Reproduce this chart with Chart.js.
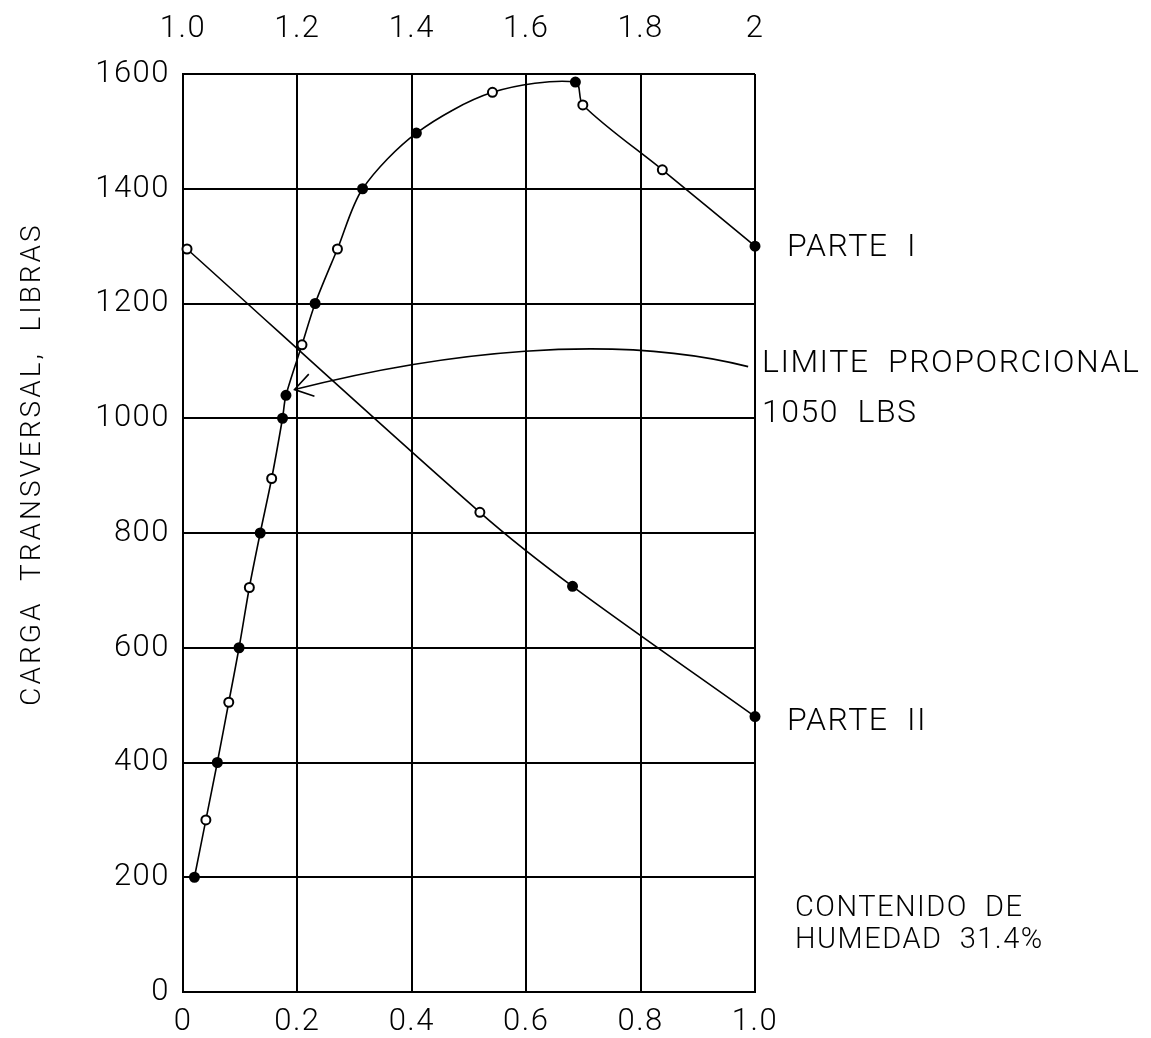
<!DOCTYPE html>
<html>
<head>
<meta charset="utf-8">
<script src="https://cdn.jsdelivr.net/npm/chart.js@4/dist/chart.umd.min.js"></script>
<style>
  html, body { margin: 0; padding: 0; background: #fff; }
  #wrap { width: 1151px; height: 1038px; }
</style>
</head>
<body>
<div id="wrap"><canvas id="c" width="1151" height="1038"></canvas></div>
<script>
// Parte I: deflexión (eje inferior, 0–1.0) y carga en libras
const deflexionParteI = [0.020, 0.040, 0.060, 0.080, 0.098, 0.116, 0.135, 0.155, 0.174, 0.180,
                         0.208, 0.231, 0.270, 0.314, 0.408, 0.541, 0.686, 0.699, 0.838, 1.000];
const cargaParteI     = [200, 300, 400, 505, 600, 705, 800, 895, 1000, 1040,
                         1128, 1200, 1295, 1400, 1497, 1568, 1586, 1546, 1433, 1300];

// Parte II: deflexión (eje superior, 1.0–2) y carga en libras
const deflexionParteII = [1.007, 1.519, 1.681, 2.000];
const cargaParteII     = [1295, 836, 707, 480];

// Marcas de los ejes
const ticksInferior = [0, 0.2, 0.4, 0.6, 0.8, 1.0];
const ticksSuperior = [1.0, 1.2, 1.4, 1.6, 1.8, 2.0];
const ticksCarga    = [0, 200, 400, 600, 800, 1000, 1200, 1400, 1600];

// Límite proporcional señalado con la flecha
const limiteProporcional = 1050;
const deflexionLimite = 0.195;

const FONT = 'Roboto, "DejaVu Sans", sans-serif';
const INK = '#000';

// relleno de cada marcador (negro = punto lleno, blanco = círculo abierto)
const rellenoI  = [1,0,1,0,1,0,1,0,1,1,0,1,0,1,1,0,1,0,0,1].map(f => f ? INK : '#fff');
const rellenoII = [0,0,1,1].map(f => f ? INK : '#fff');

const toPts = (xs, ys) => xs.map((x, i) => ({ x, y: ys[i] }));

const spacing = {
  id: 'spacing',
  beforeDraw(chart) { chart.ctx.letterSpacing = '1.5px'; }
};

const anotaciones = {
  id: 'anotaciones',
  afterDraw(chart) {
    const { ctx, chartArea } = chart;
    const xs = chart.scales.x, ys = chart.scales.y;
    ctx.save();
    ctx.fillStyle = INK;
    ctx.strokeStyle = INK;

    // flecha curva hacia el límite proporcional
    const P = (x, y) => [xs.getPixelForValue(x), ys.getPixelForValue(y)];
    const p0 = P(0.988, 1090), c1 = P(0.75, 1150), c2 = P(0.45, 1115);
    const p3 = P(deflexionLimite, limiteProporcional);
    ctx.lineWidth = 1.6;
    ctx.beginPath();
    ctx.moveTo(p0[0], p0[1]);
    ctx.bezierCurveTo(c1[0], c1[1], c2[0], c2[1], p3[0], p3[1]);
    ctx.stroke();
    const ang = Math.atan2(c2[1] - p3[1], c2[0] - p3[0]);
    const L = 21, spread = 33 * Math.PI / 180;
    ctx.beginPath();
    ctx.moveTo(p3[0] + L * Math.cos(ang - spread), p3[1] + L * Math.sin(ang - spread));
    ctx.lineTo(p3[0], p3[1]);
    ctx.lineTo(p3[0] + L * Math.cos(ang + spread), p3[1] + L * Math.sin(ang + spread));
    ctx.stroke();

    // textos a la derecha del gráfico
    ctx.letterSpacing = '1.5px';
    ctx.font = `300 32px ${FONT}`;
    ctx.textAlign = 'left';
    ctx.textBaseline = 'middle';
    const r = chartArea.right;
    ctx.fillText('PARTE  I', r + 32, ys.getPixelForValue(cargaParteI[cargaParteI.length - 1]) + 2);
    ctx.fillText('LIMITE  PROPORCIONAL', r + 7, 364);
    ctx.fillText(`${limiteProporcional}  LBS`, r + 7, 414);
    ctx.fillText('PARTE  II', r + 32, ys.getPixelForValue(cargaParteII[cargaParteII.length - 1]) + 5);
    ctx.font = `300 29px ${FONT}`;
    ctx.fillText('CONTENIDO  DE', r + 40, 909);
    ctx.fillText('HUMEDAD  31.4%', r + 40, 941);

    // título del eje vertical
    ctx.letterSpacing = '3px';
    ctx.font = `300 28px ${FONT}`;
    ctx.textAlign = 'center';
    ctx.translate(33, 464);
    ctx.rotate(-Math.PI / 2);
    ctx.fillText('CARGA  TRANSVERSAL,  LIBRAS', 0, 0);
    ctx.restore();
  }
};

const tickFont = { family: FONT, size: 31, weight: 300 };

new Chart(document.getElementById('c'), {
  type: 'line',
  data: {
    datasets: [
      {
        label: 'PARTE I',
        data: toPts(deflexionParteI, cargaParteI),
        xAxisID: 'x', yAxisID: 'y',
        borderColor: INK, borderWidth: 1.6,
        tension: 0.3,
        pointRadius: 4.5, pointBorderWidth: 2,
        pointBorderColor: INK, pointBackgroundColor: rellenoI,
        clip: false
      },
      {
        label: 'PARTE II',
        data: toPts(deflexionParteII, cargaParteII),
        xAxisID: 'x2', yAxisID: 'y',
        borderColor: INK, borderWidth: 1.6,
        tension: 0.3,
        pointRadius: 4.5, pointBorderWidth: 2,
        pointBorderColor: INK, pointBackgroundColor: rellenoII,
        clip: false
      }
    ]
  },
  options: {
    responsive: false,
    animation: false,
    events: [],
    layout: { padding: { left: 0, top: 0, right: 396, bottom: 0 } },
    plugins: { legend: { display: false }, tooltip: { enabled: false } },
    scales: {
      x: {
        type: 'linear', position: 'bottom', min: 0, max: 1,
        afterBuildTicks: s => { s.ticks = ticksInferior.map(v => ({ value: v })); },
        afterFit: s => { s.height = 46; },
        grid: { color: INK, lineWidth: 2, drawTicks: false },
        border: { display: true, color: INK, width: 2 },
        ticks: {
          color: INK, font: tickFont, padding: 12, maxRotation: 0, autoSkip: false,
          callback: v => v === 0 ? '0' : Number(v).toFixed(1)
        }
      },
      x2: {
        type: 'linear', position: 'top', min: 1, max: 2,
        afterBuildTicks: s => { s.ticks = ticksSuperior.map(v => ({ value: v })); },
        afterFit: s => { s.height = 74; },
        grid: { display: false, drawTicks: false },
        border: { display: false },
        ticks: {
          color: INK, font: tickFont, padding: 26, maxRotation: 0, autoSkip: false,
          callback: v => v === 2 ? '2' : Number(v).toFixed(1)
        }
      },
      y: {
        type: 'linear', position: 'left', min: 0, max: 1600,
        afterBuildTicks: s => { s.ticks = ticksCarga.map(v => ({ value: v })); },
        afterFit: s => { s.width = 183; },
        grid: { color: INK, lineWidth: 2, drawTicks: false },
        border: { display: true, color: INK, width: 2 },
        ticks: {
          color: INK, font: tickFont, padding: 13, autoSkip: false,
          callback: v => String(v)
        }
      }
    }
  },
  plugins: [spacing, anotaciones]
});
</script>
</body>
</html>
